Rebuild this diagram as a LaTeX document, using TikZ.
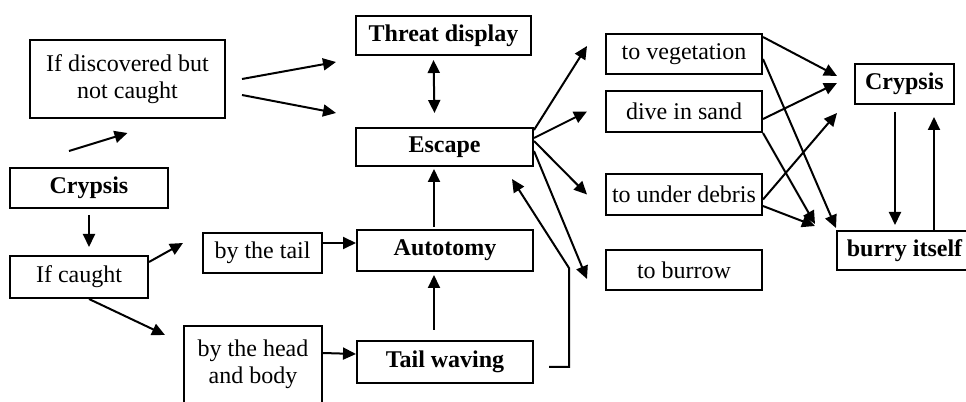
\documentclass[tikz,border=0pt]{standalone}
\usepackage{fontspec}
\setmainfont{Liberation Serif}
\usepackage{tikz}
\usetikzlibrary{arrows.meta,calc}

\begin{document}
\begin{tikzpicture}[x=0.5pt,y=0.5pt,
box/.style={draw,line width=1pt,inner sep=2pt,align=center,anchor=north west,font=\fontsize{12}{13.5}\selectfont},
bbox/.style={box,font=\fontsize{12}{13.5}\selectfont\bfseries},
arr/.style={-{Triangle[length=6.5pt,width=6pt]},line width=1pt},
darr/.style={{Triangle[length=6.5pt,width=6pt]}-{Triangle[length=6.5pt,width=6pt]},line width=1pt}]
\useasboundingbox (0,0) rectangle (966,402);
% left part
\node[box,minimum width=97.5pt,minimum height=39pt] (disc) at (29,363) {If discovered but\\not caught};
\node[bbox,minimum width=79pt,minimum height=20pt] (crypL) at (9,235) {Crypsis};
\node[box,minimum width=69pt,minimum height=21pt] (caught) at (9,147) {If caught};
\node[box,minimum width=59.5pt,minimum height=20pt] (tail) at (202,170) {by the tail};
\node[box,minimum width=69pt,inner ysep=7pt,text depth=40pt] (head) at (183,77) {by the head\\and body};
% middle column
\node[bbox,minimum width=87.5pt,minimum height=19.5pt] (threat) at (355,387) {Threat display};
\node[bbox,minimum width=88.5pt,minimum height=19pt] (escape) at (355,275) {Escape};
\node[bbox,minimum width=88pt,minimum height=20.5pt] (autot) at (356,173) {Autotomy};
\node[bbox,minimum width=88pt,minimum height=21pt] (waving) at (356,62) {Tail waving};
% escape routes
\node[box,minimum width=78pt,minimum height=20pt] (veg) at (605,369) {to vegetation};
\node[box,minimum width=78pt,minimum height=20.5pt] (sand) at (605,312) {dive in sand};
\node[box,minimum width=78pt,minimum height=20.5pt] (debris) at (605,229) {to under debris};
\node[box,minimum width=78pt,minimum height=20pt] (burrow) at (605,153) {to burrow};
% right part
\node[bbox,minimum width=49.5pt,minimum height=20pt] (crypR) at (854,339) {Crypsis};
\node[bbox,minimum width=67.5pt,minimum height=19.5pt] (burry) at (836,172) {burry itself};
% connectors
\draw[arr] ($(crypL.north)+(-20,16)$) -- ($(disc.south)+(0,-14)$);
\draw[arr] ($(disc.east)+(16,0)$) -- ($(threat.south west)+(-19,-6)$);
\draw[arr] ($(disc.east)+(16,-16)$) -- ($(escape.north west)+(-19,14)$);
\draw[darr] ($(threat.south)+(-10,-4)$) -- ($(escape.north)+(-10,14)$);
\draw[arr] ($(crypL.south)+(0,-6)$) -- ($(caught.north)+(10,8)$);
\draw[arr] ($(caught.east)+(0,15)$) -- ($(tail.west)+(-19,10)$);
\draw[arr] ($(caught.south)+(10,0)$) -- ($(head.north west)+(-18,-10)$);
\draw[arr] ($(tail.east)+(0,10)$) -- ($(autot.west)+(0,7.5)$);
\draw[arr] ($(head.north east)+(0,-28)$) -- ($(waving.west)+(0,8)$);
\draw[arr] ($(autot.north)+(-11,2)$) -- ($(escape.south)+(-10.5,-2)$);
\draw[arr] ($(waving.north)+(-11,10)$) -- ($(autot.south)+(-11,-3)$);
\draw[arr] ($(waving.east)+(15,-5)$) -- ++(20,0) -- ++(0,99) -- ($(escape.south east)+(-22,-12)$);
\draw[arr] ($(escape.east)+(0,17)$) -- ($(veg.west)+(-18,8)$);
\draw[arr] ($(escape.east)+(0,9)$) -- ($(sand.west)+(-18,0)$);
\draw[arr] ($(escape.east)+(0,6)$) -- ($(debris.west)+(-18,0)$);
\draw[arr] ($(escape.east)+(0,-4)$) -- ($(burrow.west)+(-18,-9)$);
\draw[arr] ($(veg.north east)+(0,-4)$) -- ($(crypR.west)+(-17,8)$);
\draw[arr] ($(sand.east)+(0,-7.5)$) -- ($(crypR.west)+(-17,1)$);
\draw[arr] ($(debris.east)+(0,-5)$) -- ($(crypR.west)+(-17,-29)$);
\draw[arr] ($(veg.east)+(0,-5)$) -- ($(burry.north west)+(0,2)$);
\draw[arr] (sand.south east) -- ($(burry.north west)+(-21,6)$);
\draw[arr] ($(debris.east)+(0,-11.5)$) -- ($(burry.north west)+(-21,4)$);
\draw[arr] ($(crypR.south)+(-9.5,-7)$) -- ($(burry.north)+(-9.5,5)$);
\draw[arr] ($(burry.north)+(29.5,0)$) -- ($(crypR.south)+(29.5,-12)$);
\end{tikzpicture}
\end{document}
